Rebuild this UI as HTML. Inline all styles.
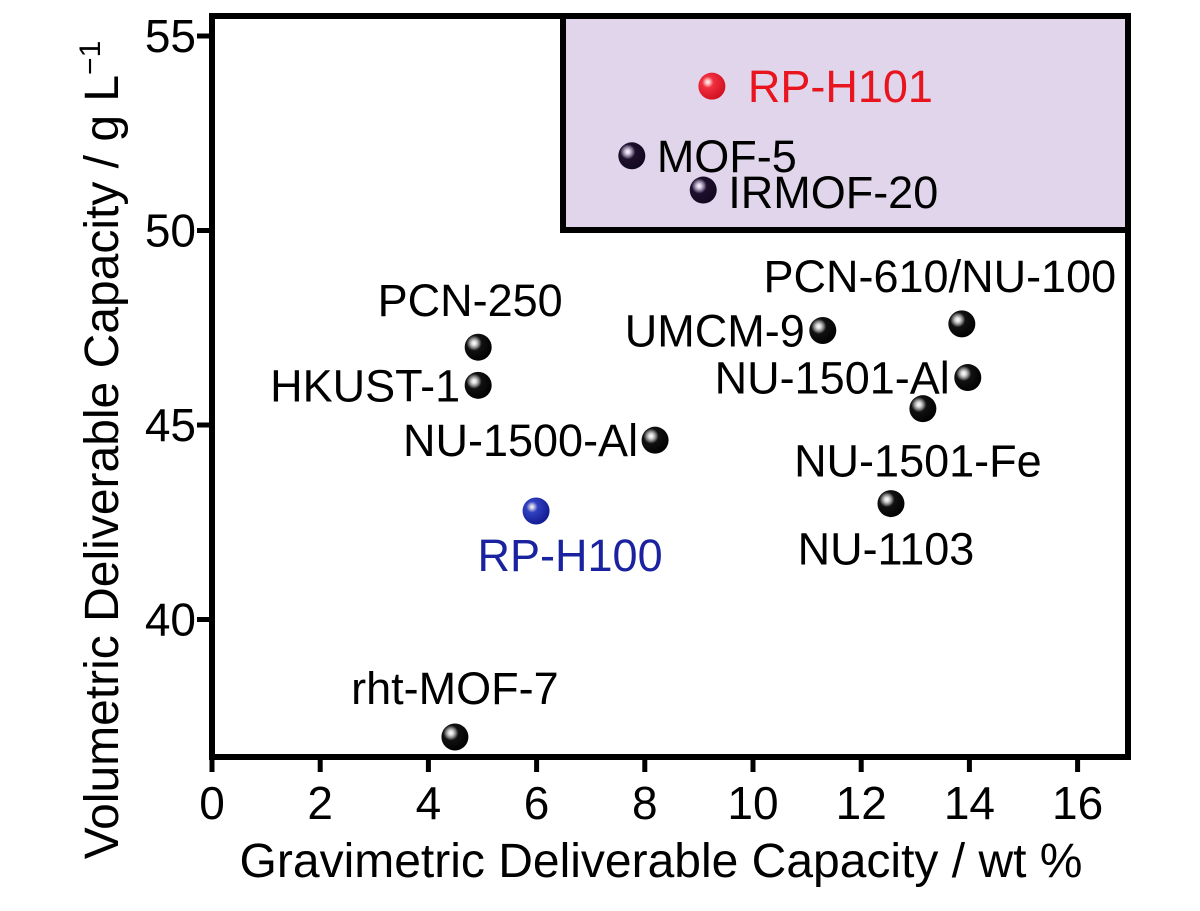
<!DOCTYPE html>
<html><head><meta charset="utf-8"><style>
html,body{margin:0;padding:0;background:#fff;}
svg text{font-family:"Liberation Sans",Arial,sans-serif;}
</style></head><body>
<svg id="chart" width="1200" height="906" xmlns="http://www.w3.org/2000/svg">
<defs>
<radialGradient id="gBlack" cx="0.35" cy="0.35" r="0.7">
<stop offset="0" stop-color="#fff"/><stop offset="0.12" stop-color="#ddd"/><stop offset="0.25" stop-color="#888"/><stop offset="0.4" stop-color="#111"/><stop offset="1" stop-color="#000"/></radialGradient>
<radialGradient id="gPurple" cx="0.35" cy="0.35" r="0.7">
<stop offset="0" stop-color="#fff"/><stop offset="0.12" stop-color="#d8cce4"/><stop offset="0.25" stop-color="#8a7a9a"/><stop offset="0.4" stop-color="#1e0f2c"/><stop offset="1" stop-color="#120820"/></radialGradient>
<radialGradient id="gRed" cx="0.35" cy="0.35" r="0.7">
<stop offset="0" stop-color="#fff"/><stop offset="0.12" stop-color="#fbb"/><stop offset="0.3" stop-color="#f03040"/><stop offset="1" stop-color="#d0101e"/></radialGradient>
<radialGradient id="gBlue" cx="0.35" cy="0.35" r="0.7">
<stop offset="0" stop-color="#fff"/><stop offset="0.12" stop-color="#bbd"/><stop offset="0.3" stop-color="#3040c0"/><stop offset="1" stop-color="#101a90"/></radialGradient>
</defs>
<rect x="563" y="16" width="565" height="214" fill="#e0d5ea" stroke="#000" stroke-width="6"/>
<g id="axes"></g>
<g id="points"></g>
<text x="661" y="877" font-size="48" text-anchor="middle">Gravimetric Deliverable Capacity / wt %</text>
<text transform="translate(118,450) rotate(-90)" font-size="48" text-anchor="middle">Volumetric Deliverable Capacity / g L<tspan dy="-18" font-size="30">−1</tspan></text>
</svg>
<script>
const names=["RP-H101","MOF-5","IRMOF-20","PCN-250","HKUST-1","NU-1500-Al","RP-H100","UMCM-9","PCN-610/NU-100","NU-1501-Al","NU-1501-Fe","NU-1103","rht-MOF-7"];
const gravimetric=[9.24,7.76,9.08,4.92,4.92,8.19,5.99,11.29,13.86,13.97,13.14,12.55,4.49];
const volumetric=[53.71,51.92,51.04,47.0,46.02,44.61,42.79,47.43,47.6,46.22,45.42,42.98,36.98];
const xTicks=[0,2,4,6,8,10,12,14,16];
const yTicks=[40,45,50,55];
const NS="http://www.w3.org/2000/svg";
const x0=212,xs=54.1,y55=36,ys=38.9;
const X=v=>x0+v*xs;
const Y=v=>y55+(55-v)*ys;
const styles={"RP-H101":["gRed","#e8141e",36,0,"start"],"MOF-5":["gPurple","#000",25,0,"start"],"IRMOF-20":["gPurple","#000",25,2,"start"],
"PCN-250":["gBlack","#000",-8,-47,"middle"],"HKUST-1":["gBlack","#000",-18,0,"end"],"NU-1500-Al":["gBlack","#000",-17,0,"end"],
"RP-H100":["gBlue","#1a22a0",34,44,"middle"],"UMCM-9":["gBlack","#000",-18,0,"end"],"PCN-610/NU-100":["gBlack","#000",-22,-48,"middle"],
"NU-1501-Al":["gBlack","#000",-18,0,"end"],"NU-1501-Fe":["gBlack","#000",-5,52,"middle"],"NU-1103":["gBlack","#000",-5,45,"middle"],"rht-MOF-7":["gBlack","#000",0,-49,"middle"]};
function mk(t,a,p){const e=document.createElementNS(NS,t);for(const k in a)e.setAttribute(k,a[k]);p.appendChild(e);return e;}
const ax=document.getElementById('axes');
const frame=mk('rect',{x:212,y:16,width:916,height:741,fill:'none',stroke:'#000','stroke-width':6},ax);


xTicks.forEach(t=>{
 const l=mk('line',{x1:X(t),x2:X(t),y1:757,y2:772,stroke:'#000','stroke-width':5},ax);
 
 
 const tx=mk('text',{x:X(t),y:819,'font-size':46,'text-anchor':'middle'},ax);tx.textContent=t;
 
 
});
yTicks.forEach(t=>{
 const l=mk('line',{x1:197,x2:212,y1:Y(t),y2:Y(t),stroke:'#000','stroke-width':5},ax);
 
 
 const tx=mk('text',{x:196,y:Y(t)+16,'font-size':46,'text-anchor':'end'},ax);tx.textContent=t;
 
 
});
const pg=document.getElementById('points');
names.forEach((n,i)=>{
 const s=styles[n];const cx=X(gravimetric[i]),cy=Y(volumetric[i]);
 const c=mk('circle',{cx:cx,cy:cy,r:13.5,fill:'url(#'+s[0]+')'},pg);
 
 
 const t=mk('text',{x:cx+s[2],y:cy+s[3]+16,'font-size':45,'text-anchor':s[4],fill:s[1]},pg);t.textContent=n;
 
 
});
</script>
</body></html>
